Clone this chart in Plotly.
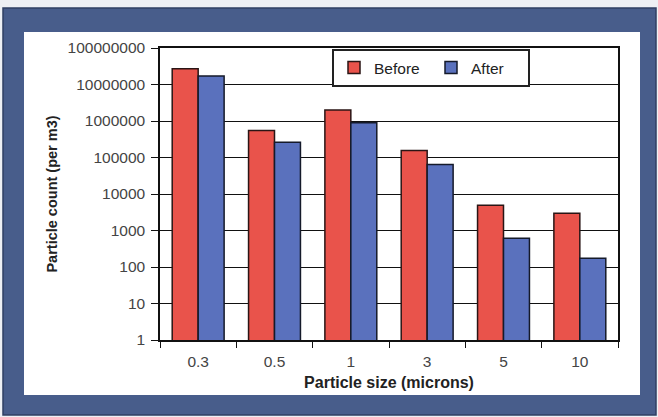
import plotly.graph_objects as go

categories = ["0.3", "0.5", "1", "3", "5", "10"]
before = [27000000, 550000, 2000000, 155000, 4900, 2950]
after = [17000000, 260000, 900000, 64000, 610, 174]
y_tick_vals = [1, 10, 100, 1000, 10000, 100000, 1000000, 10000000, 100000000]
y_tick_text = ["1", "10", "100", "1000", "10000", "100000", "1000000", "10000000", "100000000"]

W, H = 658, 417
L, R, T, B = 160, 618, 48, 340

def px_x(p):
    return (p - L) / (R - L)

def px_y(p):
    return (B - p) / (B - T)

ARIAL = "Liberation Sans, Arial, sans-serif"

fig = go.Figure()
fig.add_trace(go.Bar(name="Before", x=categories, y=before,
                     marker=dict(color="#e9534b", line=dict(color="#2a1515", width=1.5))))
fig.add_trace(go.Bar(name="After", x=categories, y=after,
                     marker=dict(color="#5a71bd", line=dict(color="#151a2a", width=1.5))))

shapes = [
    dict(type="rect", xref="paper", yref="paper", layer="below",
         x0=px_x(3), x1=px_x(656), y0=px_y(8), y1=px_y(415),
         fillcolor="#485d8b", line=dict(color="#2f3f63", width=1.5)),
    dict(type="rect", xref="paper", yref="paper", layer="below",
         x0=px_x(24), x1=px_x(640), y0=px_y(32), y1=px_y(395),
         fillcolor="#ffffff", line=dict(width=0)),
]

fig.update_layout(
    width=W, height=H,
    margin=dict(l=L, r=W - R, t=T, b=H - B, pad=0),
    paper_bgcolor="#eef0f4",
    plot_bgcolor="#ffffff",
    barmode="group", bargap=0.32, bargroupgap=0,
    shapes=shapes,
    font=dict(family=ARIAL, size=15, color="#333333"),
    showlegend=True,
    legend=dict(orientation="h", x=px_x(332), y=px_y(49), xanchor="left", yanchor="top",
                bgcolor="#ffffff", bordercolor="#222222", borderwidth=2,
                font=dict(family=ARIAL, size=15.5, color="#222222"),
                entrywidth=52, itemwidth=30, tracegroupgap=0),
    xaxis=dict(showline=True, linecolor="#111111", linewidth=1.5, mirror=True,
               ticks="outside", tickson="boundaries", ticklen=6, tickcolor="#111111",
               ticklabelstandoff=7,
               tickfont=dict(family=ARIAL, size=15.5, color="#444444"),
               title=dict(text="<b>Particle size (microns)</b>",
                          font=dict(family=ARIAL, size=16, color="#222222"), standoff=7)),
    yaxis=dict(type="log", range=[0, 8], tickvals=y_tick_vals, ticktext=y_tick_text,
               showline=True, linecolor="#111111", linewidth=1.5, mirror=True,
               showgrid=True, gridcolor="#111111", gridwidth=1,
               ticks="outside", ticklen=7, tickcolor="#111111",
               ticklabelstandoff=3,
               tickfont=dict(family=ARIAL, size=15.5, color="#444444"),
               title=dict(text="<b>Particle count (per m3)</b>",
                          font=dict(family=ARIAL, size=14.5, color="#222222"), standoff=6)),
)

fig.write_html("out.html", config={"displayModeBar": False},
               post_script="document.body.style.margin='0';document.body.style.padding='0';")
